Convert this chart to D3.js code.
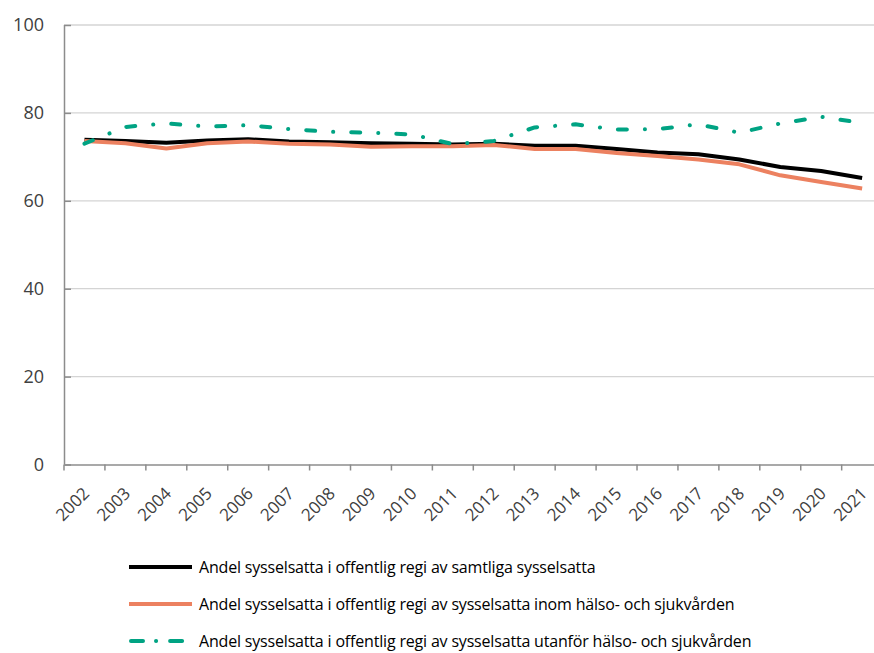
<!DOCTYPE html>
<html><head><meta charset="utf-8">
<script src="https://cdn.jsdelivr.net/npm/d3@7/dist/d3.min.js"></script>
<style>body{margin:0;background:#fff}svg{display:block;font-family:"Open Sans",sans-serif}</style>
</head><body>
<svg id="c" width="874" height="653"></svg>
<script>
const years = ["2002","2003","2004","2005","2006","2007","2008","2009","2010","2011","2012","2013","2014","2015","2016","2017","2018","2019","2020","2021"];
const samtliga = [73.9,73.6,73.2,73.7,74.0,73.5,73.3,73.1,73.0,72.8,73.0,72.5,72.5,71.8,71.0,70.6,69.4,67.7,66.8,65.2];
const inom =     [73.6,73.1,71.9,73.1,73.5,73.0,72.8,72.3,72.4,72.4,72.7,71.8,71.8,70.9,70.2,69.4,68.3,65.8,64.3,62.8];
const utanfor =  [73.0,76.8,77.6,76.9,77.2,76.3,75.7,75.5,75.1,72.9,73.6,76.7,77.4,76.2,76.3,77.4,75.5,77.6,79.1,77.7];
const yTicks = [0,20,40,60,80,100];
const seriesNames = [
  "Andel sysselsatta i offentlig regi av samtliga sysselsatta",
  "Andel sysselsatta i offentlig regi av sysselsatta inom hälso- och sjukvården",
  "Andel sysselsatta i offentlig regi av sysselsatta utanför hälso- och sjukvården"
];
const colors = ["#000000","#ec8160","#00a383"];
const dashes = [null,null,"9,18,0.1,18"];

const svg = d3.select("#c");
const x = d3.scaleBand().domain(years).range([64, 882.6]);
const y = d3.scaleLinear().domain([0,100]).range([464.5, 25]);

// gridlines
svg.append("g").selectAll("line").data(yTicks.filter(d=>d>0)).join("line")
  .attr("x1",64).attr("x2",874).attr("y1",d=>y(d)).attr("y2",d=>y(d))
  .attr("stroke","#d4d4d4").attr("stroke-width",1.3);

// y axis
const ya = svg.append("g").attr("transform","translate(64,0)")
  .call(d3.axisRight(y).tickValues(yTicks).tickSize(7).tickFormat(d3.format("d")));
ya.select(".domain").attr("stroke","#8c8c8c").attr("stroke-width",1.5).attr("d","M0.5,25V464.5");
ya.selectAll(".tick line").attr("stroke","#8c8c8c").attr("stroke-width",1.5);
ya.selectAll(".tick text").attr("x",-20).attr("text-anchor","end").attr("font-size",18)
  .attr("fill","#404040").attr("font-family","Open Sans");

// x axis
const xa = svg.append("g").attr("transform","translate(0,464.5)")
  .call(d3.axisBottom(x).tickSize(6).tickSizeOuter(0));
xa.select(".domain").attr("stroke","#8c8c8c").attr("stroke-width",1.5);
xa.selectAll(".tick line").attr("stroke","#8c8c8c").attr("stroke-width",1.5)
  .attr("transform",`translate(${-x.bandwidth()/2},0)`);
xa.selectAll(".tick text").attr("font-size",17).attr("fill","#404040").attr("font-family","Open Sans")
  .attr("text-anchor","end").attr("dy",null).attr("y",0)
  .attr("transform","translate(6,30) rotate(-45)");

const line = d3.line().x((d,i)=>x(years[i])+x.bandwidth()/2).y(d=>y(d));
[samtliga,inom,utanfor].forEach((s,k)=>{
  const p = svg.append("path").datum(s).attr("d",line).attr("fill","none")
    .attr("stroke",colors[k]).attr("stroke-width",4).attr("stroke-linejoin","round")
    .attr("stroke-linecap", k===2?"round":"butt");
  if(dashes[k]) p.attr("stroke-dasharray",dashes[k]);
});

// legend
const lg = svg.append("g");
seriesNames.forEach((n,k)=>{
  const yy = 567 + k*37;
  const l = lg.append("line").attr("x1",k===2?131:129).attr("x2",k===2?187:192).attr("y1",yy).attr("y2",yy)
    .attr("stroke",colors[k]).attr("stroke-width",4).attr("stroke-linecap",k===2?"round":"butt");
  if(dashes[k]) l.attr("stroke-dasharray","12,13,0.1,14");
  lg.append("text").attr("x",199).attr("y",yy).attr("dy","0.35em").attr("font-size",16)
    .attr("letter-spacing","-0.18px")
    .attr("fill","#000").attr("font-family","Open Sans").text(n);
});
</script>
</body></html>
